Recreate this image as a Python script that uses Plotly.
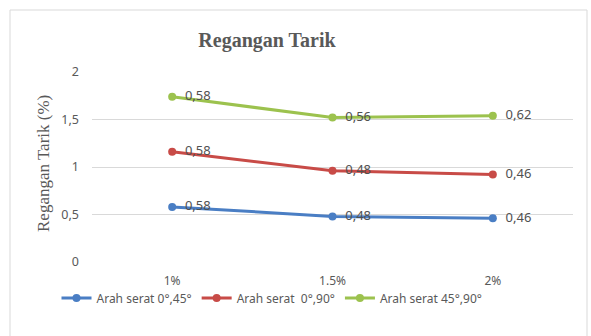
import numpy as np
import plotly.graph_objects as go

# Fibre content categories and strain values for each fibre orientation
categories = ["1%", "1.5%", "2%"]
series_names = ["Arah serat 0°,45°", "Arah serat  0°,90°", "Arah serat 45°,90°"]
strain_0_45 = [0.58, 0.48, 0.46]
strain_0_90 = [0.58, 0.48, 0.46]
strain_45_90 = [0.58, 0.56, 0.62]
y_ticks = [0, 0.5, 1, 1.5, 2]
y_tick_labels = ["0", "0,5", "1", "1,5", "2"]

colors = ["#4A7EC4", "#C84B47", "#9CC24E"]

values = np.array([strain_0_45, strain_0_90, strain_45_90])
stacked = np.cumsum(values, axis=0)  # stacked line chart

fig = go.Figure()
for name, vals, cum, col in zip(series_names, values, stacked, colors):
    fig.add_trace(go.Scatter(
        x=categories, y=cum, name=name,
        mode="lines+markers+text",
        line=dict(color=col, width=3),
        marker=dict(color=col, size=8),
        text=["  " + f"{v:.2f}".replace(".", ",") for v in vals],
        textposition="middle right",
        textfont=dict(family="Noto Sans", size=13, color="#505050"),
        cliponaxis=False,
    ))

W, H = 591, 336
ml, mr, mt, mb = 92, 18, 72, 74
pw, ph = W - ml - mr, H - mt - mb

def px_x(p):
    return (p - ml) / pw

def px_y(p):
    return (H - mb - p) / ph

fig.update_layout(
    width=W, height=H,
    margin=dict(l=ml, r=mr, t=mt, b=mb),
    paper_bgcolor="white", plot_bgcolor="white",
    showlegend=True,
    legend=dict(
        orientation="h", x=px_x(272), xanchor="center", y=px_y(298), yanchor="middle",
        font=dict(family="Noto Sans", size=12, color="#595959"),
        bgcolor="rgba(0,0,0,0)",
        itemwidth=30, tracegroupgap=0,
    ),
    title=dict(
        text="<b>Regangan Tarik</b>", x=267 / W, xanchor="center",
        y=1 - 40 / H, yanchor="middle",
        font=dict(family="Liberation Serif", size=20, color="#595959"),
    ),
    xaxis=dict(
        type="category", range=[-0.5, 2.5], showgrid=False, zeroline=False,
        showline=False, ticks="", ticklabelstandoff=10,
        tickfont=dict(family="Noto Sans", size=12, color="#595959"),
    ),
    yaxis=dict(
        range=[0, 2], tickvals=y_ticks, ticktext=y_tick_labels,
        showgrid=True, gridcolor="#D9D9D9", gridwidth=1, zeroline=False,
        showline=False, ticks="", ticklabelstandoff=12,
        tickfont=dict(family="Noto Sans", size=12.5, color="#595959"),
    ),
    annotations=[dict(
        text="Regangan Tarik (%)", textangle=-90,
        xref="paper", yref="paper", x=px_x(43), y=px_y(164),
        xanchor="center", yanchor="middle", showarrow=False,
        font=dict(family="Liberation Serif", size=17, color="#595959"),
    )],
    shapes=[dict(
        type="rect", xref="paper", yref="paper",
        x0=px_x(10), x1=px_x(587), y0=px_y(345), y1=px_y(10),
        line=dict(color="#D9D9D9", width=1), layer="below",
    )],
)

fig.write_html("out.html")
